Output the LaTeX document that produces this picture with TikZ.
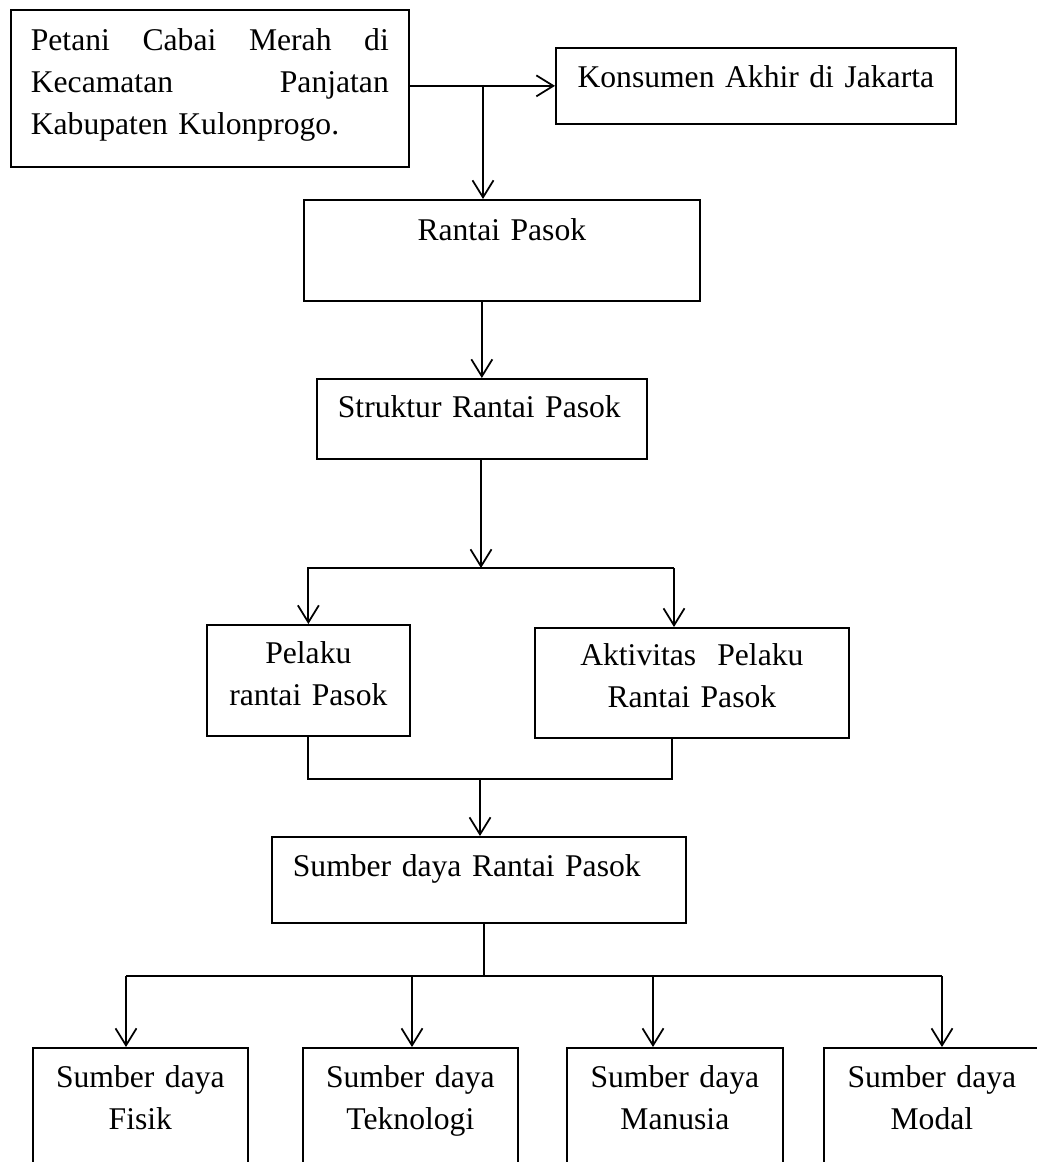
\documentclass[tikz,border=0pt]{standalone}
\usepackage{fontspec}
\setmainfont{Liberation Serif}
\usetikzlibrary{arrows.meta}
\tikzset{
  kotak/.style={draw, anchor=north west, inner ysep=0pt, inner xsep=0.2cm, align=center},
}
\begin{document}
\begin{tikzpicture}[x=0.02cm, y=-0.02cm, line width=1pt,
  >={Straight Barb[length=0.34cm,width=0.42cm]},
  every node/.style={font=\fontsize{18}{23.8}\selectfont}]
\clip[use as bounding box] (0,0) rectangle (1037,1162);
\node[kotak, align=left, inner xsep=0.4cm, text width=7.16cm, text height=0.82cm, text depth=2.32cm] (PT) at (10,9)
  {Petani\hfill Cabai\hfill Merah\hfill di\\Kecamatan\hfill Panjatan\\Kabupaten Kulonprogo.};
\node[kotak, text width=7.6cm, text height=0.8cm, text depth=0.72cm] (KA) at (555,47) {Konsumen Akhir di Jakarta};
\node[kotak, text width=7.52cm, text height=0.82cm, text depth=1.2cm] (RP) at (303,199) {Rantai Pasok};
\node[kotak, align=left, inner xsep=0.42cm, text width=5.76cm, text height=0.78cm, text depth=0.82cm] (SRP) at (316,378) {Struktur Rantai Pasok};
\node[kotak, text width=3.66cm, text height=0.78cm, text depth=1.44cm] (PRP) at (206,624) {Pelaku\\rantai Pasok};
\node[kotak, text width=5.88cm, text height=0.76cm, text depth=1.44cm] (APR) at (534,627) {Aktivitas\ \ Pelaku\\Rantai Pasok};
\node[kotak, align=left, inner xsep=0.42cm, text width=7.44cm, text height=0.8cm, text depth=0.92cm] (SDR) at (271,836) {Sumber daya Rantai Pasok};
\node[kotak, text width=3.9cm, text height=0.8cm, text depth=2cm] (SF) at (32,1047) {Sumber daya\\Fisik};
\node[kotak, text width=3.9cm, text height=0.8cm, text depth=2cm] (ST) at (302,1047) {Sumber daya\\Teknologi};
\node[kotak, text width=3.92cm, text height=0.8cm, text depth=2cm] (SM) at (566,1047) {Sumber daya\\Manusia};
\node[kotak, text width=3.92cm, text height=0.8cm, text depth=2cm] (SMo) at (823,1047) {Sumber daya\\Modal};
% titik cabang
\coordinate (C1) at (483,85);
\coordinate (C2) at (481,568);
\coordinate (C2r) at (674,568);
\coordinate (C3) at (480,779);
\coordinate (C3r) at (672,779);
\coordinate (C4) at (484,976);
\coordinate (C4l) at (126,976);
\coordinate (C4a) at (412,976);
\coordinate (C4b) at (653,976);
\coordinate (C4r) at (942,976);
\draw[->] (C2r) -| (PRP.north);
\draw (PRP.south) |- (C3r) -- (C3r |- APR.south);
\path
  (PT.east |- KA) edge[->] (KA)
  (C1) edge[->] (C1 |- RP.north)
  (RP.south -| SRP.north) edge[->] (SRP.north)
  (SRP.south -| C2) edge[->] (C2)
  (C2r) edge[->] (C2r |- APR.north)
  (C3) edge[->] (C3 |- SDR.north)
  (C4 |- SDR.south) edge (C4)
  (C4l) edge (C4r)
  (C4l) edge[->] (C4l |- SF.north)
  (C4a) edge[->] (C4a |- ST.north)
  (C4b) edge[->] (C4b |- SM.north)
  (C4r) edge[->] (C4r |- SMo.north)
;
\end{tikzpicture}
\end{document}
